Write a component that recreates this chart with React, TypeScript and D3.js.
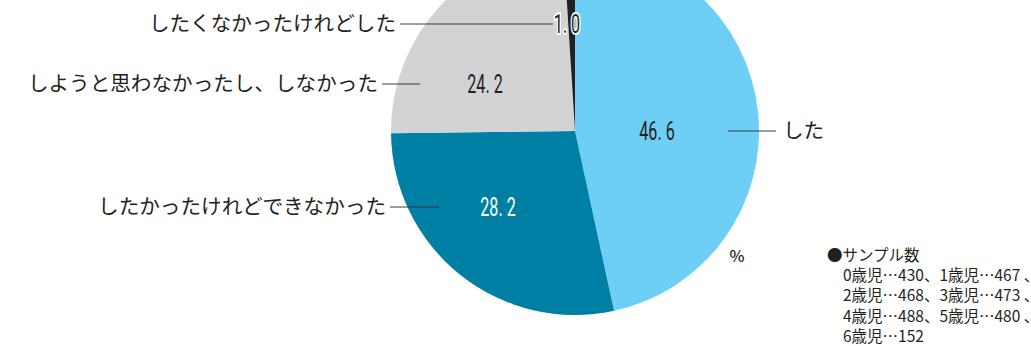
import React from "react";
import * as d3 from "d3";

const categories = [
  "した",
  "したかったけれどできなかった",
  "しようと思わなかったし、しなかった",
  "したくなかったけれどした",
];
const values = [46.6, 28.2, 24.2, 1.0];
const colors = ["#6DCFF5", "#007FA5", "#D1D3D4", "#231F20"];
const sampleTitle = "●サンプル数";
const sampleLines = [
  "0歳児…430、1歳児…467 、",
  "2歳児…468、3歳児…473 、",
  "4歳児…488、5歳児…480 、",
  "6歳児…152",
];

const W = 1031;
const H = 346;
const cx = 575;
const cy = 131;
const R = 184;

const layout = [
  { vx: 657, vy: 131, lx1: 728, lx2: 776, tx: 783, anchor: "start", valColor: "#231F20" },
  { vx: 498, vy: 207, lx1: 390, lx2: 439, tx: 386, anchor: "end", valColor: "#FFFFFF" },
  { vx: 485, vy: 84, lx1: 382, lx2: 420, tx: 378, anchor: "end", valColor: "#231F20" },
  { vx: 567, vy: 24, lx1: 400, lx2: 553, tx: 396, anchor: "end", valColor: "#231F20" },
];

export default function App() {
  const pie = d3.pie<number>().sort(null).value((d) => d)(values);
  const arc = d3.arc<d3.PieArcDatum<number>>().innerRadius(0).outerRadius(R);
  const jp = "'Noto Sans CJK JP', 'Noto Sans', sans-serif";
  const num = "'Roboto', 'DejaVu Sans', sans-serif";
  return (
    <svg
      width={W}
      height={H}
      style={{ position: "absolute", left: 0, top: 0, background: "#fff" }}
    >
      <g transform={`translate(${cx},${cy})`}>
        {pie.map((p, i) => (
          <path key={i} d={arc(p) || ""} fill={colors[i]} />
        ))}
      </g>
      {layout.map((l, i) => (
        <g key={i}>
          <line x1={l.lx1} x2={l.lx2} y1={l.vy} y2={l.vy} stroke="#3a3a3a" strokeWidth={1.2} />
          <text
            x={l.tx}
            y={l.vy}
            dy="0.36em"
            textAnchor={l.anchor as any}
            fontFamily={jp}
            fontSize={20.6}
            fill="#231F20"
          >
            {categories[i]}
          </text>
          <g transform={`translate(${l.vx},${l.vy}) scale(0.62,1)`}>
            <text
              x={0}
              y={0}
              dy="0.36em"
              textAnchor="middle"
              fontFamily={num}
              fontSize={26}
              fill={l.valColor}
              stroke={i === 3 ? "#FFFFFF" : "none"}
              strokeWidth={i === 3 ? 4 : 0}
              paintOrder="stroke"
            >
              {values[i].toFixed(1).replace(".", ". ")}
            </text>
          </g>
        </g>
      ))}
      <text x={737} y={256} dy="0.36em" textAnchor="middle" fontFamily={jp} fontSize={16} fontWeight={500} fill="#231F20">
        %
      </text>
      <text x={827} y={255} dy="0.36em" fontFamily={jp} fontSize={15.5} fill="#231F20">
        {sampleTitle}
      </text>
      {sampleLines.map((s, i) => (
        <text key={i} x={843} y={275 + i * 20.6} dy="0.36em" fontFamily={jp} fontSize={15.5} fill="#231F20">
          {s}
        </text>
      ))}
    </svg>
  );
}
